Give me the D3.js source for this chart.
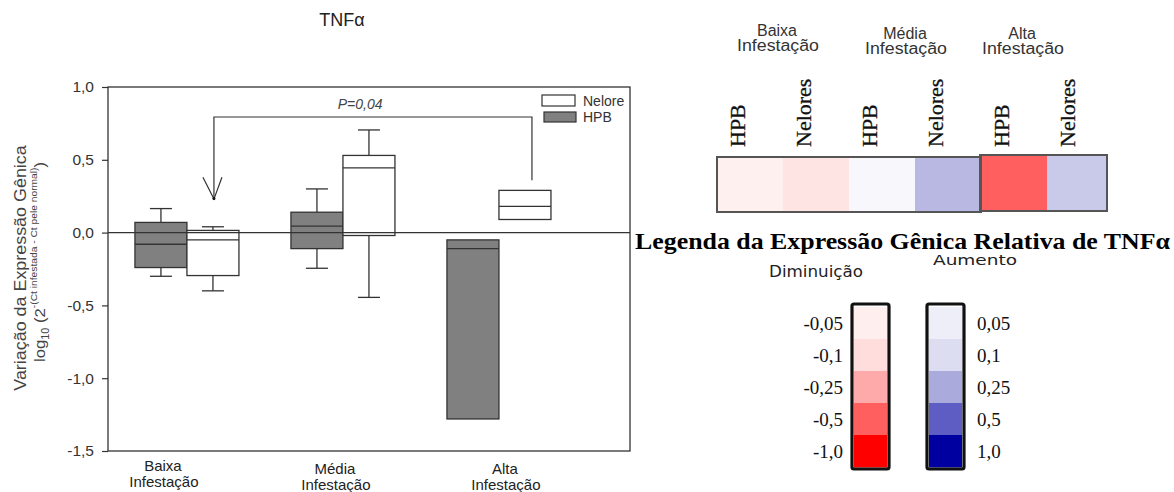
<!DOCTYPE html>
<html><head><meta charset="utf-8">
<script src="https://cdn.jsdelivr.net/npm/d3@7"></script>
<style>body{margin:0;background:#fff} svg{display:block}</style>
</head><body>
<svg id="c" width="1174" height="492"></svg>
<script>
// ---------- data ----------
const groupLine1 = ["Baixa", "Média", "Alta"];
const groupLine2 = ["Infestação", "Infestação", "Infestação"];
const yTicks = [1.0, 0.5, 0.0, -0.5, -1.0, -1.5];

// HPB box plots (per group)
const hpbLow    = [-0.30, -0.245, null];
const hpbQ1     = [-0.24, -0.11, -1.28];
const hpbMedian = [-0.08, 0.045, -0.11];
const hpbQ3     = [0.07, 0.14, -0.05];
const hpbHigh   = [0.165, 0.30, null];
// Nelore box plots (per group)
const neloreLow    = [-0.40, -0.445, null];
const neloreQ1     = [-0.295, -0.02, 0.09];
const neloreMedian = [-0.05, 0.445, 0.18];
const neloreQ3     = [0.015, 0.53, 0.29];
const neloreHigh   = [0.04, 0.705, null];

const pLabel = "P=0,04";
const seriesNames = ["Nelore", "HPB"];

// heat map
const heatCols   = ["HPB", "Nelores", "HPB", "Nelores", "HPB", "Nelores"];
const heatValues = [-0.045, -0.08, 0.025, 0.21, -0.5, 0.16];

// colour legend
const legendNeg = [-0.05, -0.1, -0.25, -0.5, -1.0];
const legendNegLabels = ["-0,05", "-0,1", "-0,25", "-0,5", "-1,0"];
const legendPos = [0.05, 0.1, 0.25, 0.5, 1.0];
const legendPosLabels = ["0,05", "0,1", "0,25", "0,5", "1,0"];

// ---------- styles ----------
const sans = "'Liberation Sans', Arial, sans-serif";
const serif = "'Liberation Serif', 'Times New Roman', serif";
const dv = "'DejaVu Sans', Verdana, sans-serif";
const ink = "#333";
const colorScale = d3.scaleLinear()
  .domain([-1, -0.5, -0.25, -0.1, -0.05, 0, 0.05, 0.1, 0.25, 0.5, 1])
  .range(["#ff0000", "#ff5f5f", "#ffaaaa", "#ffdddd", "#ffeeee", "#ffffff",
          "#eeeef8", "#ddddf2", "#aaaadd", "#5d5dc4", "#0000a0"]);

const svg = d3.select("#c");

// ---------- left chart ----------
const y = d3.scaleLinear().domain([-1.5, 1]).range([451, 87]);
const x = d3.scaleLinear().domain([-0.506, 2.84]).range([108, 630]);
const step = x(1) - x(0);
const boxW = step / 3;
const capW = 22;

const fmt = d3.formatLocale({decimal: ",", thousands: ".", grouping: [3], currency: ["", ""], minus: "-"}).format(".1f");

svg.append("text").attr("x", 342).attr("y", 26).attr("text-anchor", "middle")
  .attr("font-family", sans).attr("font-size", 18).attr("fill", "#222").text("TNFα");

svg.append("g").attr("transform", "translate(108,0)")
  .call(d3.axisLeft(y).tickValues(yTicks).tickFormat(fmt).tickSize(6).tickPadding(8))
  .call(g => {
    g.select(".domain").remove();
    g.selectAll("line").attr("stroke", ink).attr("stroke-width", 1.2);
    g.selectAll("text").attr("font-size", 15.5).attr("font-family", sans).attr("fill", "#333");
  });

svg.append("rect").attr("x", x.range()[0]).attr("y", y(1)).attr("width", x.range()[1] - x.range()[0])
  .attr("height", y(-1.5) - y(1)).attr("fill", "none").attr("stroke", ink).attr("stroke-width", 1.3);

function drawSeries(low, q1, med, q3, high, offset, fill) {
  const g = svg.append("g");
  q1.forEach((_, i) => {
    const left = x(i) + offset * boxW;
    const cx = left + boxW / 2;
    if (high[i] != null) {
      g.append("line").attr("x1", cx).attr("x2", cx).attr("y1", y(q3[i])).attr("y2", y(high[i]))
        .attr("stroke", ink).attr("stroke-width", 1.3);
      g.append("line").attr("x1", cx - capW / 2).attr("x2", cx + capW / 2).attr("y1", y(high[i])).attr("y2", y(high[i]))
        .attr("stroke", ink).attr("stroke-width", 1.3);
    }
    if (low[i] != null) {
      g.append("line").attr("x1", cx).attr("x2", cx).attr("y1", y(q1[i])).attr("y2", y(low[i]))
        .attr("stroke", ink).attr("stroke-width", 1.3);
      g.append("line").attr("x1", cx - capW / 2).attr("x2", cx + capW / 2).attr("y1", y(low[i])).attr("y2", y(low[i]))
        .attr("stroke", ink).attr("stroke-width", 1.3);
    }
    g.append("rect").attr("x", left).attr("y", y(q3[i])).attr("width", boxW).attr("height", y(q1[i]) - y(q3[i]))
      .attr("fill", fill).attr("stroke", ink).attr("stroke-width", 1.3);
    g.append("line").attr("x1", left).attr("x2", left + boxW).attr("y1", y(med[i])).attr("y2", y(med[i]))
      .attr("stroke", ink).attr("stroke-width", 1.3);
  });
}
drawSeries(hpbLow, hpbQ1, hpbMedian, hpbQ3, hpbHigh, -1, "#808080");
drawSeries(neloreLow, neloreQ1, neloreMedian, neloreQ3, neloreHigh, 0, "#ffffff");

// zero line
svg.append("line").attr("x1", x.range()[0]).attr("x2", x.range()[1]).attr("y1", y(0)).attr("y2", y(0))
  .attr("stroke", ink).attr("stroke-width", 1.3);

// significance bracket
const xL = x(0) + boxW / 2 + 1;
const xR = x(2) + boxW / 2 + 7;
svg.append("path").attr("d", `M${xL},${y(0.23)} V${y(0.794)} H${xR} V${y(0.36)}`)
  .attr("fill", "none").attr("stroke", ink).attr("stroke-width", 1.2);
svg.append("path").attr("d", `M${xL - 11},${y(0.38)} L${xL},${y(0.23)} L${xL + 8},${y(0.38)}`)
  .attr("fill", "none").attr("stroke", ink).attr("stroke-width", 1.2);
svg.append("circle").attr("cx", xL).attr("cy", y(0.235)).attr("r", 1.5).attr("fill", "#111");
svg.append("text").attr("x", x(1.11)).attr("y", y(0.85)).attr("text-anchor", "middle")
  .attr("font-family", sans).attr("font-style", "italic").attr("font-size", 14).attr("fill", "#444").text(pLabel);

// legend
const lg = svg.append("g").attr("font-family", sans).attr("font-size", 14).attr("fill", "#333");
lg.append("rect").attr("x", 542).attr("y", 95).attr("width", 33).attr("height", 11).attr("fill", "#fff").attr("stroke", ink).attr("stroke-width", 1.2);
lg.append("rect").attr("x", 544).attr("y", 112).attr("width", 32).attr("height", 10).attr("fill", "#808080").attr("stroke", ink).attr("stroke-width", 1.2);
lg.append("text").attr("x", 583).attr("y", 106).text(seriesNames[0]);
lg.append("text").attr("x", 583).attr("y", 122).text(seriesNames[1]);

// x labels
const labOff = [-24, -8, 6];
const labY1 = [471, 474, 474];
const labY2 = [487, 490, 490];
groupLine1.forEach((t, i) => {
  const t1 = svg.append("text").attr("text-anchor", "middle").attr("font-family", sans).attr("font-size", 15).attr("fill", "#222");
  t1.append("tspan").attr("x", x(i) + labOff[i]).attr("y", labY1[i]).text(t);
  t1.append("tspan").attr("x", x(i) + labOff[i] + 1).attr("y", labY2[i]).text(groupLine2[i]);
});

// y label
svg.append("text").attr("transform", "translate(26,268) rotate(-90) scale(1.12,1)")
  .attr("text-anchor", "middle").attr("font-family", sans).attr("font-size", 16).attr("fill", "#444")
  .text("Variação da Expressão Gênica");
const yl2 = svg.append("text").attr("transform", "translate(45,262) rotate(-90) scale(1.08,1)")
  .attr("text-anchor", "middle").attr("font-family", sans).attr("font-size", 15.5).attr("fill", "#444");
yl2.append("tspan").text("log");
yl2.append("tspan").attr("font-size", 10).attr("dy", 4).text("10");
yl2.append("tspan").attr("dy", -4).text(" (2");
yl2.append("tspan").attr("font-size", 9.5).attr("dy", -8).text("-(Ct infestada - Ct pele normal)");
yl2.append("tspan").attr("dy", 8).text(")");

// ---------- heat map ----------
const hx = d3.scaleBand().domain(d3.range(heatCols.length)).range([717, 1113]);
const hw = hx.bandwidth();
heatValues.forEach((v, i) => {
  const top = i < 4 ? 157 : 155;
  const bottom = i < 4 ? 212 : 211;
  const w = i === heatValues.length - 1 ? hw - 6 : hw;
  svg.append("rect").attr("x", hx(i)).attr("y", top).attr("width", w).attr("height", bottom - top)
    .attr("fill", colorScale(v));
});
svg.append("rect").attr("x", hx(0)).attr("y", 157).attr("width", hx(4) - hx(0)).attr("height", 55)
  .attr("fill", "none").attr("stroke", "#555").attr("stroke-width", 2);
svg.append("rect").attr("x", hx(4) - 1).attr("y", 155).attr("width", hx(5) + hw - 6 - (hx(4) - 1)).attr("height", 56)
  .attr("fill", "none").attr("stroke", "#555").attr("stroke-width", 2);

heatCols.forEach((t, i) => {
  svg.append("text").attr("transform", `translate(${hx(i) + hw / 2 - 5},147) rotate(-90)`)
    .attr("font-family", serif).attr("font-size", 22).attr("fill", "#111")
    .attr("stroke", "#111").attr("stroke-width", 0.3).text(t);
});

const hgCenter = [777, 905, 1022];
const hgDy = [0, 3, 3];
groupLine1.forEach((t, g) => {
  const tt = svg.append("text").attr("text-anchor", "middle").attr("font-family", sans).attr("font-size", 16).attr("fill", "#333");
  tt.append("tspan").attr("x", hgCenter[g]).attr("y", 36 + hgDy[g]).text(t);
  tt.append("tspan").attr("x", hgCenter[g] + 1).attr("y", 51 + hgDy[g]).attr("textLength", 82).attr("lengthAdjust", "spacingAndGlyphs").text(groupLine2[g]);
});

// ---------- colour legend ----------
svg.append("text").attr("x", 635).attr("y", 249).attr("font-family", serif).attr("font-weight", "bold")
  .attr("font-size", 24).attr("textLength", 535).attr("lengthAdjust", "spacingAndGlyphs").attr("fill", "#000")
  .text("Legenda da Expressão Gênica Relativa de TNFα");
svg.append("text").attr("x", 769).attr("y", 277).attr("font-family", dv).attr("font-size", 15)
  .attr("textLength", 94).attr("lengthAdjust", "spacingAndGlyphs").attr("fill", "#222").text("Diminuição");
svg.append("text").attr("x", 933).attr("y", 265).attr("font-family", dv).attr("font-size", 14)
  .attr("textLength", 84).attr("lengthAdjust", "spacingAndGlyphs").attr("fill", "#222").text("Aumento");

const ly = d3.scaleBand().domain(d3.range(5)).range([307, 467]);
function legendBar(vals, labels, bx, side) {
  vals.forEach((v, i) => {
    svg.append("rect").attr("x", bx).attr("y", ly(i)).attr("width", 33).attr("height", ly.bandwidth() + 0.5)
      .attr("fill", colorScale(v));
    const lx = side === "left" ? bx - 11 : bx + 48;
    svg.append("text").attr("x", lx).attr("y", ly(i) + ly.bandwidth() / 2 + 7)
      .attr("text-anchor", side === "left" ? "end" : "start")
      .attr("font-family", serif).attr("font-size", 19).attr("fill", "#111").text(labels[i]);
  });
  svg.append("rect").attr("x", bx - 2).attr("y", ly.range()[0] - 3).attr("width", 37).attr("height", ly.range()[1] - ly.range()[0] + 5)
    .attr("rx", 2).attr("fill", "none").attr("stroke", "#111").attr("stroke-width", 3.2);
}
legendBar(legendNeg, legendNegLabels, 854, "left");
legendBar(legendPos, legendPosLabels, 929, "right");
</script>
</body></html>
